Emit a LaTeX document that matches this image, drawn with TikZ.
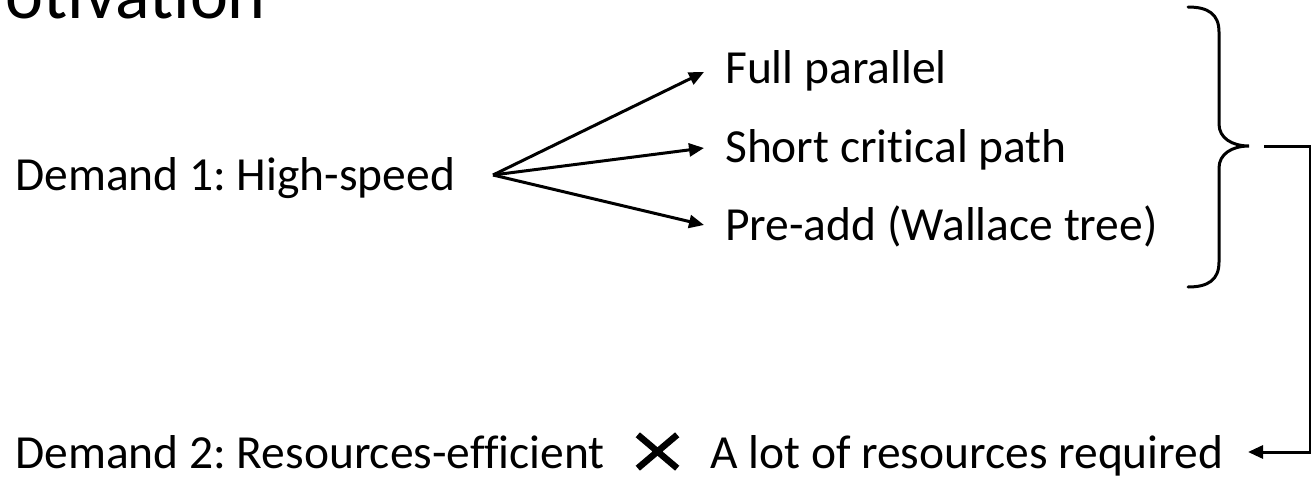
\documentclass[tikz,border=0pt]{standalone}
\usepackage{fontspec}
\setmainfont{Carlito}[Ligatures=NoCommon]
\usetikzlibrary{arrows.meta}
\frenchspacing

\begin{document}
\begin{tikzpicture}[x=1pt,y=-1pt,
  label/.style={inner sep=0pt,anchor=base west,font=\fontsize{47.5}{57}\selectfont},
  titletext/.style={inner sep=0pt,anchor=base east,font=\fontsize{72}{86}\selectfont},
  link/.style={line width=3pt,-{Triangle[length=15pt,width=13pt]}},
  bracepath/.style={line width=3pt,line cap=round}
]
  % page frame
  \useasboundingbox (0,0) rectangle (1311,479);
  \clip (0,0) rectangle (1311,479);

  % slide title, partly outside the frame
  \node[titletext] (title) at (266,18) {Motivation};

  % demand 1 and its three techniques
  \node[label] (d1) at (15,190) {Demand 1: High-speed};
  \coordinate (fork) at (493,175);
  \node[label] (t1) at (725,83)  {Full parallel};
  \node[label] (t2) at (725,162) {Short critical path};
  \node[label] (t3) at (725,240) {Pre-add (Wallace tree)};
  \coordinate (h1) at (704,72);
  \coordinate (h2) at (704,148);
  \coordinate (h3) at (704,225);
  \draw[link] (fork) -- (h1);
  \draw[link] (fork) -- (h2);
  \draw[link] (fork) -- (h3);

  % curly brace grouping the techniques
  \coordinate (btop) at (1188,7);
  \coordinate (btip) at (1249,146);
  \coordinate (bbot) at (1188,287);
  \draw[bracepath] (btop) .. controls (1208,7) and (1219,14) .. (1219,32)
    -- (1219,124) .. controls (1219,138) and (1232,146) .. (btip)
    .. controls (1232,146) and (1219,154) .. (1219,168)
    -- (1219,262) .. controls (1219,280) and (1208,287) .. (bbot);

  % demand 2 and its conflict
  \node[label] (d2) at (15,468) {Demand 2: Resources-efficient};
  \node[inner sep=0pt,minimum width=39pt,minimum height=33pt] (cross) at (657.5,451.5) {};
  \draw[line width=6.5pt] (cross.north west) -- (cross.south east)
                          (cross.south west) -- (cross.north east);
  \node[label] (r2) at (710,468) {A lot of resources required};

  % return line from the brace to the consequence
  \coordinate (ret) at (1248,452);
  \draw[link] ([xshift=15pt]btip) -- (1310,146) |- (ret);
\end{tikzpicture}
\end{document}
